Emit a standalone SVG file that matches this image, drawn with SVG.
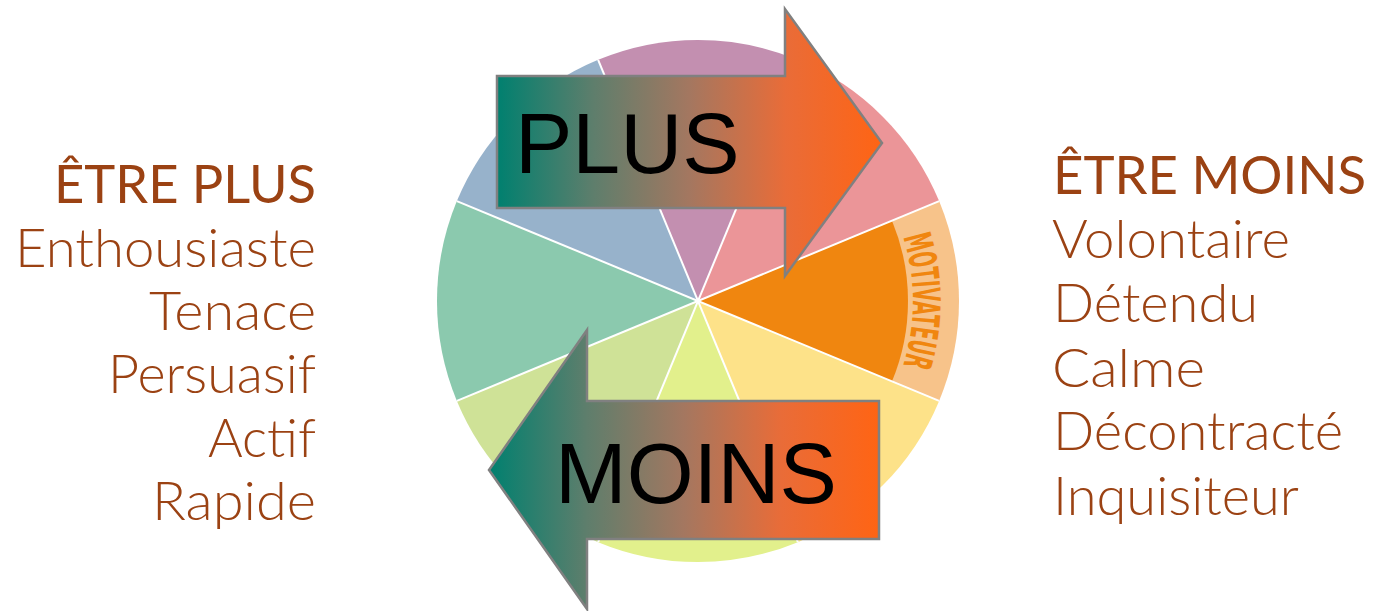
<svg xmlns="http://www.w3.org/2000/svg" width="1375" height="611" viewBox="0 0 1375 611">
<defs>
<style>
.lbl{font-family:Lato,"Noto Sans","Liberation Sans",sans-serif;font-size:53px;font-weight:300;fill:#9B4213}
.hdr{font-weight:400}
.big{font-family:"Liberation Sans",Arial,sans-serif;font-size:86px;fill:#000}
.arrow{stroke:#808080;stroke-width:2.5;stroke-linejoin:miter}
.sep{stroke:#FFFFFF;stroke-width:2;fill:none}
.mot{font-family:"DejaVu Sans Condensed","DejaVu Sans",sans-serif;font-weight:bold;font-size:38px;fill:#F0860F}
</style>
<linearGradient id="gPlus" gradientUnits="userSpaceOnUse" x1="497" y1="0" x2="882" y2="0">
<stop offset="0" stop-color="#00806F"/>
<stop offset="0.25" stop-color="#5E7E6C"/>
<stop offset="0.5" stop-color="#A47760"/>
<stop offset="0.75" stop-color="#E96C38"/>
<stop offset="1" stop-color="#FF6414"/>
</linearGradient>
<linearGradient id="gMoins" gradientUnits="userSpaceOnUse" x1="489" y1="0" x2="879" y2="0">
<stop offset="0" stop-color="#00806F"/>
<stop offset="0.25" stop-color="#5E7E6C"/>
<stop offset="0.5" stop-color="#A47760"/>
<stop offset="0.75" stop-color="#E96C38"/>
<stop offset="1" stop-color="#FF6414"/>
</linearGradient>
<path id="motArc" d="M 897.6,221.2 A 215,215 0 0 1 897.6,380.8"/>
</defs>

<g id="wheel">
<path fill="#C38FB0" d="M698,301 L598.12,59.87 A261,261 0 0 1 797.88,59.87 Z"/>
<path fill="#EB9598" d="M698,301 L797.88,59.87 A261,261 0 0 1 939.13,201.12 Z"/>
<path fill="#F7C38A" d="M698,301 L939.13,201.12 A261,261 0 0 1 939.13,400.88 Z"/>
<path fill="#F0860F" d="M698,301 L892.01,220.64 A210,210 0 0 1 892.01,381.36 Z"/>
<path fill="#FDE289" d="M698,301 L939.13,400.88 A261,261 0 0 1 797.88,542.13 Z"/>
<path fill="#E2F08C" d="M698,301 L797.88,542.13 A261,261 0 0 1 598.12,542.13 Z"/>
<path fill="#CFE297" d="M698,301 L598.12,542.13 A261,261 0 0 1 456.87,400.88 Z"/>
<path fill="#8BC9AE" d="M698,301 L456.87,400.88 A261,261 0 0 1 456.87,201.12 Z"/>
<path fill="#97B2CB" d="M698,301 L456.87,201.12 A261,261 0 0 1 598.12,59.87 Z"/>
<line class="sep" x1="598.12" y1="59.87" x2="797.88" y2="542.13"/>
<line class="sep" x1="797.88" y1="59.87" x2="598.12" y2="542.13"/>
<line class="sep" x1="939.13" y1="201.12" x2="456.87" y2="400.88"/>
<line class="sep" x1="939.13" y1="400.88" x2="456.87" y2="201.12"/>
<text class="mot"><textPath href="#motArc" startOffset="50%" text-anchor="middle" textLength="130" lengthAdjust="spacingAndGlyphs">MOTIVATEUR</textPath></text>
</g>

<g id="plus-arrow">
<polygon class="arrow" fill="url(#gPlus)" points="497,76 785,76 785,9 882,143 785,276 785,208 497,208"/>
<text class="big" x="515" y="173">PLUS</text>
</g>

<g id="moins-arrow">
<polygon class="arrow" fill="url(#gMoins)" points="879,401 587,401 587,330 489,470 587,609 587,539 879,539"/>
<text class="big" x="555" y="503">MOINS</text>
</g>

<g id="left-list" text-anchor="end">
<text class="lbl hdr" x="316" y="203" textLength="262" lengthAdjust="spacingAndGlyphs">ÊTRE PLUS</text>
<text class="lbl" x="316" y="267" textLength="301" lengthAdjust="spacingAndGlyphs">Enthousiaste</text>
<text class="lbl" x="316" y="330" textLength="167" lengthAdjust="spacingAndGlyphs">Tenace</text>
<text class="lbl" x="316" y="393" textLength="208" lengthAdjust="spacingAndGlyphs">Persuasif</text>
<text class="lbl" x="316" y="457" textLength="108" lengthAdjust="spacingAndGlyphs">Actif</text>
<text class="lbl" x="316" y="520" textLength="164" lengthAdjust="spacingAndGlyphs">Rapide</text>
</g>

<g id="right-list">
<text class="lbl hdr" x="1053" y="194" textLength="313" lengthAdjust="spacingAndGlyphs">ÊTRE MOINS</text>
<text class="lbl" x="1052" y="258" textLength="238" lengthAdjust="spacingAndGlyphs">Volontaire</text>
<text class="lbl" x="1053" y="322" textLength="205" lengthAdjust="spacingAndGlyphs">Détendu</text>
<text class="lbl" x="1052" y="387" textLength="153" lengthAdjust="spacingAndGlyphs">Calme</text>
<text class="lbl" x="1053" y="450" textLength="290" lengthAdjust="spacingAndGlyphs">Décontracté</text>
<text class="lbl" x="1053" y="515" textLength="246" lengthAdjust="spacingAndGlyphs">Inquisiteur</text>
</g>
</svg>
